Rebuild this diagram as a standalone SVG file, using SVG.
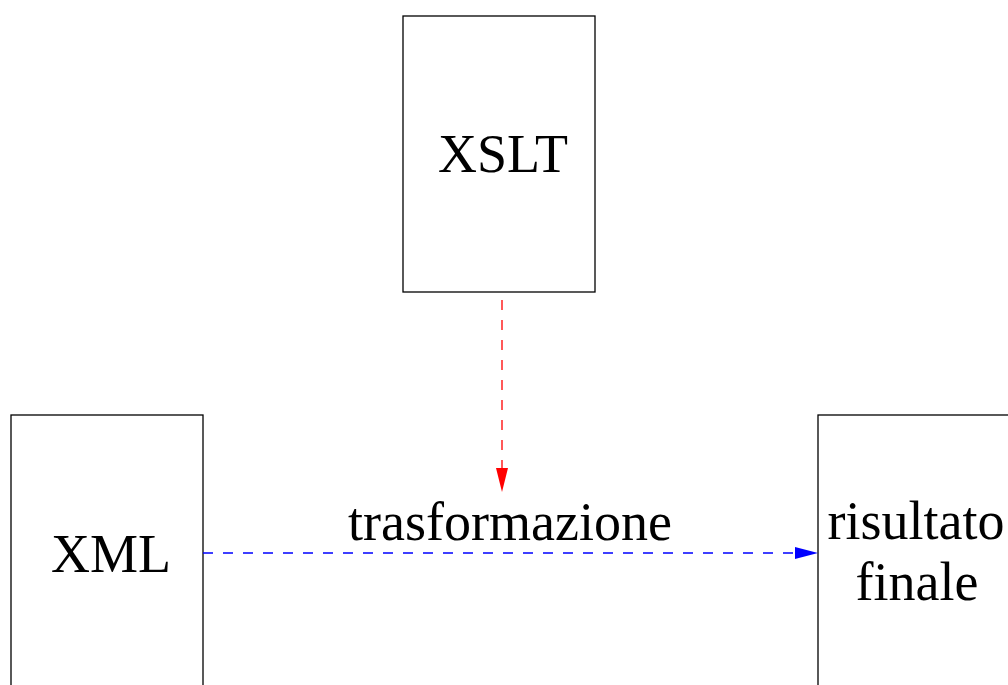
<svg xmlns="http://www.w3.org/2000/svg" width="1008" height="685" viewBox="0 0 1008 685">
<style>
.box{fill:#fff;stroke:#000;stroke-width:1.3}
.lbl{font-family:"Liberation Serif","Times New Roman",serif;font-size:54px;fill:#000;text-anchor:middle}
.dash{stroke-width:1.3;stroke-dasharray:10,10}
</style>
<rect width="1008" height="685" fill="#fff"/>
<g id="xslt"><rect class="box" x="403" y="16" width="192" height="276"/><text class="lbl" x="503" y="172">XSLT</text></g>
<g id="xml"><rect class="box" x="11" y="415" width="192" height="290"/><text class="lbl" x="111" y="572">XML</text></g>
<g id="risultato"><rect class="box" x="818" y="415" width="200" height="290"/><text class="lbl" x="916" y="539">risultato</text><text class="lbl" x="917" y="600">finale</text></g>
<g id="connectors">
<line class="dash" x1="502" y1="300" x2="502" y2="468" stroke="red"/>
<path d="M496,468 L508,468 L502,492 z" fill="red"/>
<line class="dash" x1="203" y1="553" x2="795" y2="553" stroke="blue"/>
<path d="M795,547 L795,559 L818,553 z" fill="blue"/>
<text class="lbl" x="510" y="540">trasformazione</text>
</g>
</svg>
